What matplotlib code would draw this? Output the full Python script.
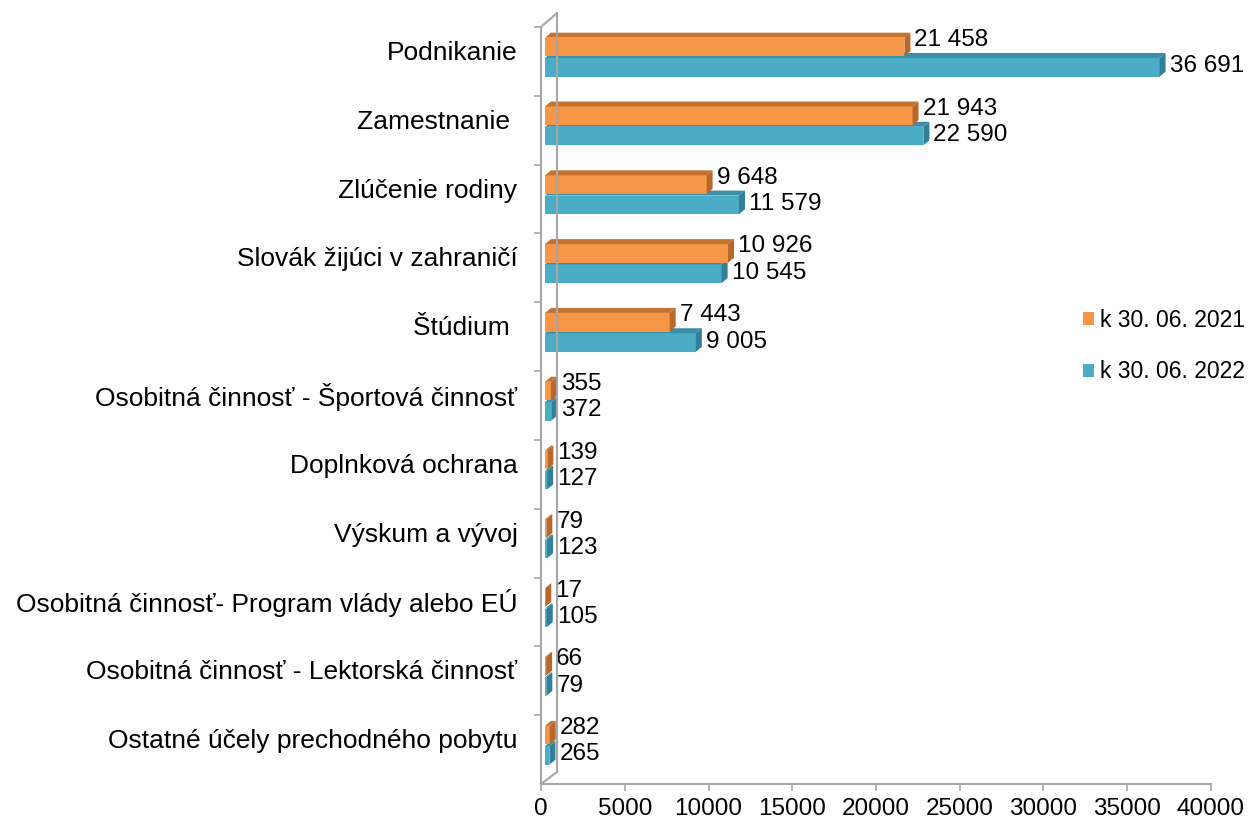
"""Horizontal 3D-look bar chart: prechodný pobyt by purpose, 2021 vs 2022."""
import matplotlib

matplotlib.use("Agg")
import matplotlib.pyplot as plt  # noqa: E402
from matplotlib.lines import Line2D  # noqa: E402
from matplotlib.patches import Patch, Polygon  # noqa: E402

plt.rcParams.update({
    "font.family": ["Liberation Sans", "DejaVu Sans"],
    "font.size": 17,
})

categories = [
    "Podnikanie",
    "Zamestnanie ",
    "Zlúčenie rodiny",
    "Slovák žijúci v zahraničí",
    "Štúdium ",
    "Osobitná činnosť - Športová činnosť",
    "Doplnková ochrana",
    "Výskum a vývoj",
    "Osobitná činnosť- Program vlády alebo EÚ",
    "Osobitná činnosť - Lektorská činnosť",
    "Ostatné účely prechodného pobytu",
]
vals_2021 = [21458, 21943, 9648, 10926, 7443, 355, 139, 79, 17, 66, 282]
vals_2022 = [36691, 22590, 11579, 10545, 9005, 372, 127, 123, 105, 79, 265]
series_names = ["k 30. 06. 2021", "k 30. 06. 2022"]
xticks = list(range(0, 40001, 5000))

ORANGE = ("#F79646", "#C4732F", "#B8682A")   # front, top, side
TEAL = ("#4BACC6", "#3A8FA6", "#31809A")
GRID = "#A6A6A6"

W, H = 1251, 823
fig = plt.figure(figsize=(W / 100, H / 100), dpi=100)
# axes box in pixels (front plane)
L, R, T, B = 541, 1211, 27, 784
ax = fig.add_axes([L / W, 1 - B / H, (R - L) / W, (B - T) / H])
ax.set_xlim(0, 40000)
ax.set_ylim(10.5, -0.5)
ux = 40000 / (R - L)   # data units per pixel
uy = 11 / (B - T)


def px(x, y):
    return x / W, 1 - y / H


# 3D wall/floor outline
for (x0, y0), (x1, y1) in [((541, 27), (541, 784)), ((557, 13), (557, 772)),
                           ((541, 27), (557, 13)), ((541, 784), (557, 772))]:
    fig.add_artist(Line2D(*zip(px(x0, y0), px(x1, y1)), color=GRID, lw=1.5))

dx, dy = 6 * ux, 5 * uy
x_start = 4 * ux
h = 0.27


def bar3d(c, v, cols):
    front, top, side = cols
    x0, x1 = x_start, x_start + v
    yt, yb = c - h / 2, c + h / 2
    ax.add_patch(Polygon([(x0, yt), (x1, yt), (x1, yb), (x0, yb)],
                         closed=True, fc=front, ec="none", zorder=3))
    ax.add_patch(Polygon([(x0, yt), (x1, yt), (x1 + dx, yt - dy), (x0 + dx, yt - dy)],
                         closed=True, fc=top, ec="none", zorder=3))
    ax.add_patch(Polygon([(x1, yt), (x1 + dx, yt - dy), (x1 + dx, yb - dy), (x1, yb)],
                         closed=True, fc=side, ec="none", zorder=3))
    return x1 + dx


def fmt(v):
    return f"{v:,}".replace(",", " ")


for i in range(len(categories)):
    c22 = i + 0.085
    c21 = i - 0.21
    xe = bar3d(c22, vals_2022[i], TEAL)
    ax.text(xe + 4 * ux, c22 - 1 * uy, fmt(vals_2022[i]), va="center", ha="left",
            fontsize=17.5, zorder=5)
    xe = bar3d(c21, vals_2021[i], ORANGE)
    ax.text(xe + 4 * ux, c21 - 7 * uy, fmt(vals_2021[i]), va="center", ha="left",
            fontsize=17.5, zorder=5)

for s in ["top", "right", "left"]:
    ax.spines[s].set_visible(False)
ax.spines["bottom"].set_color(GRID)
ax.spines["bottom"].set_linewidth(1.5)

ax.set_xticks(xticks)
ax.set_xticklabels([str(t) for t in xticks])
ax.tick_params(axis="x", length=5, width=1.2, color=GRID, pad=5, labelsize=17.5)

ax.set_yticks([i - 0.16 for i in range(len(categories))])
ax.set_yticklabels(categories)
ax.set_yticks([i - 0.5 for i in range(len(categories))], minor=True)
ax.tick_params(axis="y", which="major", length=0, pad=17, labelsize=19)
ax.tick_params(axis="y", which="minor", length=5, width=1.2, color=GRID)

handles = [Patch(fc=ORANGE[0], ec="none"), Patch(fc=TEAL[0], ec="none")]
fig.legend(handles, series_names, loc="center left",
           bbox_to_anchor=(1062 / W, 1 - 346 / H), frameon=False,
           handlelength=0.5, handleheight=0.5, handletextpad=0.25,
           labelspacing=1.25, fontsize=16.5)

fig.savefig("out.png", dpi=100)
